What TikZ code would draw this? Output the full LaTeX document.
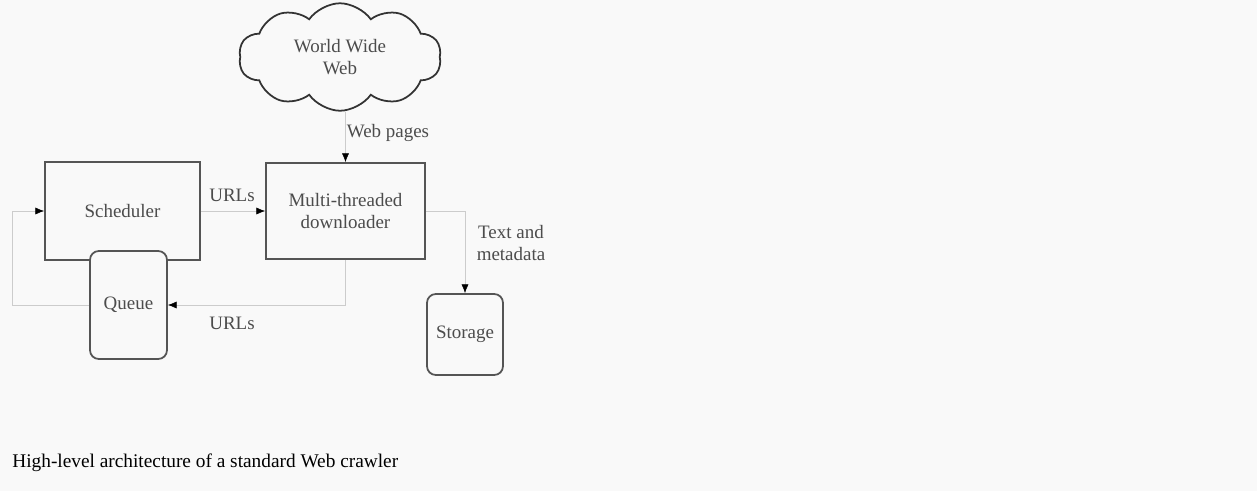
\documentclass[tikz,border=0pt]{standalone}
\usepackage{fontspec}
\setmainfont{Liberation Serif}
\usetikzlibrary{calc}
\usetikzlibrary{arrows.meta}
\usetikzlibrary{shapes.symbols}
\definecolor{bgcol}{RGB}{249,249,249}
\definecolor{linecol}{RGB}{85,85,85}

\begin{document}
\begin{tikzpicture}[x=0.02cm, y=-0.02cm,
  box/.style={draw=linecol, line width=1pt, fill=bgcol, inner sep=0, text=black!70, font=\fontsize{10.8}{13}\selectfont, align=center},
  store/.style={box, rounded corners=5pt},
  lbl/.style={text=black!70, font=\fontsize{10.8}{13}\selectfont, align=center, inner sep=0},
  link/.style={draw=black!20, line width=0.3pt, -{Latex[black, length=5pt, width=4pt]}}]
\fill[bgcol] (0,0) rectangle (1257,491);
\useasboundingbox (0,0) rectangle (1257,491);
\node[cloud, cloud puffs=10, cloud puff arc=110, cloud ignores aspect, draw=black!80, line width=1pt,
  minimum width=4.05cm, minimum height=2.15cm, inner sep=0, text=black!70,
  font=\fontsize{10.8}{13}\selectfont, align=center] (web) at (340,57) {World Wide\\Web};
\node[box, minimum width=3.1cm, minimum height=1.96cm] (sched) at (122.5,211) {Scheduler};
\node[store, minimum width=1.54cm, minimum height=2.16cm] (queue) at (128.5,305) {Queue};
\node[box, minimum width=3.18cm, minimum height=1.92cm] (dl) at (345.5,211) {Multi-threaded\\downloader};
\node[store, minimum width=1.52cm, minimum height=1.62cm] (store) at (465,334.5) {Storage};
\draw[link] (queue.west) -- ++(-77,0) |- (sched.west);
\draw[link] (sched.east) -- (dl.west);
\draw[link] (dl.north |- web.south) -- (dl.north);
\draw[link] (dl.south) |- (queue.east);
\draw[link] (dl.east) -| (store.north);
\node[lbl] (urlsa) at (232,195) {URLs};
\node[lbl] (urlsb) at (232,323) {URLs};
\node[lbl] (pages) at (388,133) {Web pages};
\node[lbl] (meta) at (511,243) {Text and\\metadata};
\node[anchor=west, inner sep=0, font=\fontsize{11}{13}\selectfont] (caption) at (12,463) {High-level architecture of a standard Web crawler};
\end{tikzpicture}
\end{document}
